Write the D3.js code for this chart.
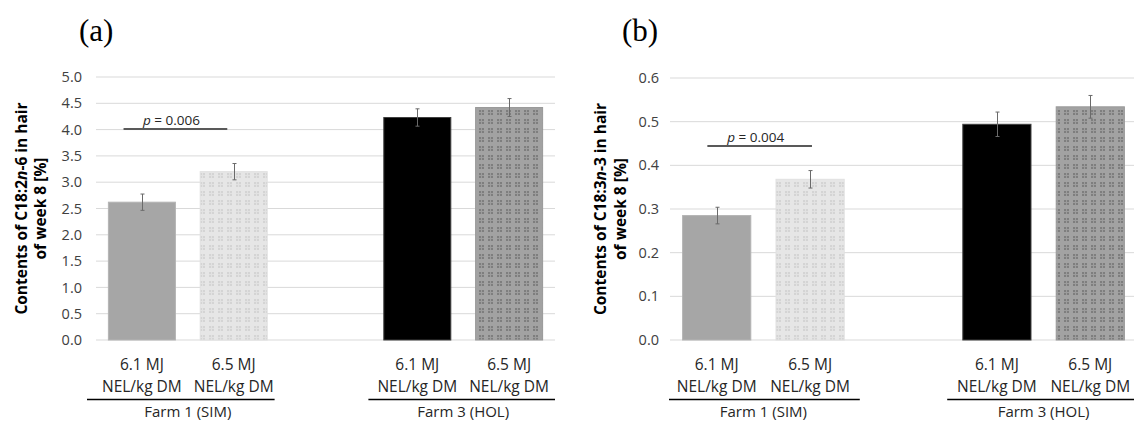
<!DOCTYPE html>
<html><head><meta charset="utf-8">
<script src="https://cdn.jsdelivr.net/npm/d3@7"></script>
<style>body{margin:0;background:#fff;} svg{display:block;}</style>
</head><body>
<svg id="c" width="1134" height="422"></svg>
<script>
// ---- data ----
const slots = ["F1_61", "F1_65", "gap", "F3_61", "F3_65"];
const barSlots = ["F1_61", "F1_65", "F3_61", "F3_65"];
const barStyles = ["solid", "light", "black", "dark"];
const catLine1 = ["6.1 MJ", "6.5 MJ", "6.1 MJ", "6.5 MJ"];
const catLine2 = ["NEL/kg DM", "NEL/kg DM", "NEL/kg DM", "NEL/kg DM"];
const farms = ["Farm 1 (SIM)", "Farm 3 (HOL)"];
const farmSlots = [["F1_61", "F1_65"], ["F3_61", "F3_65"]];

const valuesA = [2.62, 3.20, 4.23, 4.42];
const errA = [0.155, 0.155, 0.165, 0.17];
const ticksA = [0, 0.5, 1.0, 1.5, 2.0, 2.5, 3.0, 3.5, 4.0, 4.5, 5.0];
const pA = "0.006";
const pLevelA = 4.01;

const valuesB = [0.285, 0.368, 0.494, 0.534];
const errB = [0.019, 0.020, 0.028, 0.026];
const ticksB = [0, 0.1, 0.2, 0.3, 0.4, 0.5, 0.6];
const pB = "0.004";
const pLevelB = 0.444;

const svg = d3.select("#c");
const defs = svg.append("defs");

// patterns
function makePattern(id, bg, sq, line) {
  const p = defs.append("pattern").attr("id", id).attr("patternUnits", "userSpaceOnUse")
    .attr("width", 9).attr("height", 9);
  p.append("rect").attr("width", 9).attr("height", 9).attr("fill", bg);
  p.append("rect").attr("x", 2).attr("y", 2).attr("width", 5).attr("height", 5).attr("fill", sq);
  p.append("rect").attr("x", 4).attr("y", 2).attr("width", 1).attr("height", 5).attr("fill", line);
  p.append("rect").attr("x", 2).attr("y", 4).attr("width", 5).attr("height", 1).attr("fill", line);
}
makePattern("pLight", "#e6e6e6", "#d4d4d4", "#e2e2e2");
makePattern("pDark", "#a2a2a2", "#7e7e7e", "#9c9c9c");
const fills = {solid: "#a6a6a6", light: "url(#pLight)", black: "#000000", dark: "url(#pDark)"};
const strokes = {solid: "#b4b4b4", light: "#e0e0e0", black: "#404040", dark: "#9a9a9a"};

const font = "'Open Sans', 'Noto Sans', sans-serif";

function panel(cfg) {
  const g = svg.append("g");
  const x = d3.scaleBand().domain(slots).range([cfg.x0, cfg.x1]).paddingInner(0.27).paddingOuter(0.135);
  const y = d3.scaleLinear().domain(cfg.domain).range([cfg.y0, cfg.yTop]);

  // gridlines
  g.append("g").selectAll("line").data(cfg.ticks).join("line")
    .attr("x1", cfg.x0).attr("x2", cfg.x1)
    .attr("y1", d => y(d)).attr("y2", d => y(d))
    .attr("stroke", "#d9d9d9").attr("stroke-width", 1);

  // y axis tick labels via d3 axis
  const ax = g.append("g").attr("transform", `translate(${cfg.x0 - cfg.tickGap},0)`)
    .call(d3.axisLeft(y).tickValues(cfg.ticks).tickFormat(d3.format(cfg.fmt)).tickSize(0).tickPadding(3));
  ax.select(".domain").remove();
  ax.selectAll("text").attr("font-family", font).attr("font-size", 14.5).attr("fill", "#404040");

  // bars
  g.append("g").selectAll("rect").data(cfg.values).join("rect")
    .attr("x", (d, i) => x(barSlots[i]))
    .attr("width", x.bandwidth())
    .attr("y", d => y(d))
    .attr("height", d => y(0) - y(d))
    .attr("fill", (d, i) => fills[barStyles[i]])
    .attr("stroke", (d, i) => strokes[barStyles[i]])
    .attr("stroke-width", 1);

  // error bars
  const eb = g.append("g").attr("stroke", "#6a6a6a").attr("stroke-width", 1);
  cfg.values.forEach((v, i) => {
    const cx = Math.round(x(barSlots[i]) + x.bandwidth() / 2) + 0.5;
    const lo = y(v - cfg.err[i]), hi = y(v + cfg.err[i]);
    eb.append("line").attr("x1", cx).attr("x2", cx).attr("y1", lo).attr("y2", hi);
    eb.append("line").attr("x1", cx - 2).attr("x2", cx + 2).attr("y1", lo).attr("y2", lo);
    eb.append("line").attr("x1", cx - 2).attr("x2", cx + 2).attr("y1", hi).attr("y2", hi);
  });

  // significance line
  const step = x.step();
  const px1 = x(barSlots[0]) + x.bandwidth() / 2 + cfg.pOff[0] * step;
  const px2 = x(barSlots[1]) + x.bandwidth() / 2 + cfg.pOff[1] * step;
  const py = y(cfg.pLevel);
  g.append("line").attr("x1", px1).attr("x2", px2).attr("y1", py).attr("y2", py)
    .attr("stroke", "#595959").attr("stroke-width", 2);
  const pt = g.append("text").attr("x", (px1 + px2) / 2 - 4).attr("y", py - 4)
    .attr("text-anchor", "middle").attr("font-family", font).attr("font-size", 13.5).attr("fill", "#262626");
  pt.append("tspan").attr("font-style", "italic").text("p");
  pt.append("tspan").text(" = " + cfg.p);

  // category labels
  const cl = g.append("g").attr("font-family", font).attr("font-size", 15.5).attr("fill", "#262626").attr("text-anchor", "middle");
  barSlots.forEach((s, i) => {
    const cx = x(s) + x.bandwidth() / 2;
    cl.append("text").attr("x", cx).attr("y", 370).text(catLine1[i]);
    cl.append("text").attr("x", cx).attr("y", 392).text(catLine2[i]);
  });

  // farm group lines & labels
  farms.forEach((f, k) => {
    const a = x(farmSlots[k][0]) - step * 0.135 - cfg.ulOff[k][0];
    const b = x(farmSlots[k][1]) + x.bandwidth() + step * 0.135 + cfg.ulOff[k][1];
    g.append("line").attr("x1", a).attr("x2", b).attr("y1", 399.5).attr("y2", 399.5)
      .attr("stroke", "#000").attr("stroke-width", 1.5);
    cl.append("text").attr("x", (x(farmSlots[k][0]) + x(farmSlots[k][1]) + x.bandwidth()) / 2).attr("y", 416.5)
      .attr("font-size", 15).text(f);
  });

  // y title
  const yt = g.append("g").attr("font-family", font).attr("font-size", 15.5).attr("font-weight", "bold")
    .attr("fill", "#000").attr("text-anchor", "middle");
  const cy = (cfg.y0 + cfg.yTop) / 2;
  const t1 = yt.append("text").attr("transform", `translate(${cfg.tx1},${cy}) rotate(-90)`);
  t1.append("tspan").text(cfg.t1a);
  t1.append("tspan").attr("font-style", "italic").text("n");
  t1.append("tspan").text(cfg.t1b);
  yt.append("text").attr("transform", `translate(${cfg.tx2},${cy}) rotate(-90)`).text("of week 8 [%]");

  // panel label
  svg.append("text").attr("x", cfg.lx).attr("y", 41).attr("font-family", "'Liberation Serif', 'DejaVu Serif', serif")
    .attr("font-size", 31).attr("fill", "#000").text(cfg.label);
}

panel({x0: 96, x1: 555, y0: 340, yTop: 77, domain: [0, 5], ticks: ticksA, fmt: ".1f", tickGap: 11,
  values: valuesA, err: errA, p: pA, pLevel: pLevelA, pOff: [-0.2, -0.07],
  ulOff: [[9, -5], [3, 0]], tx1: 27, tx2: 46, t1a: "Contents of C18:2", t1b: "-6 in hair",
  lx: 79, label: "(a)"});

panel({x0: 670, x1: 1137, y0: 340, yTop: 78, domain: [0, 0.6], ticks: ticksB, fmt: ".1f", tickGap: 8,
  values: valuesB, err: errB, p: pB, pLevel: pLevelB, pOff: [-0.1, 0.02],
  ulOff: [[1, 3], [3, 0]], tx1: 606, tx2: 626, t1a: "Contents of C18:3", t1b: "-3 in hair",
  lx: 622, label: "(b)"});
</script>
</body></html>
